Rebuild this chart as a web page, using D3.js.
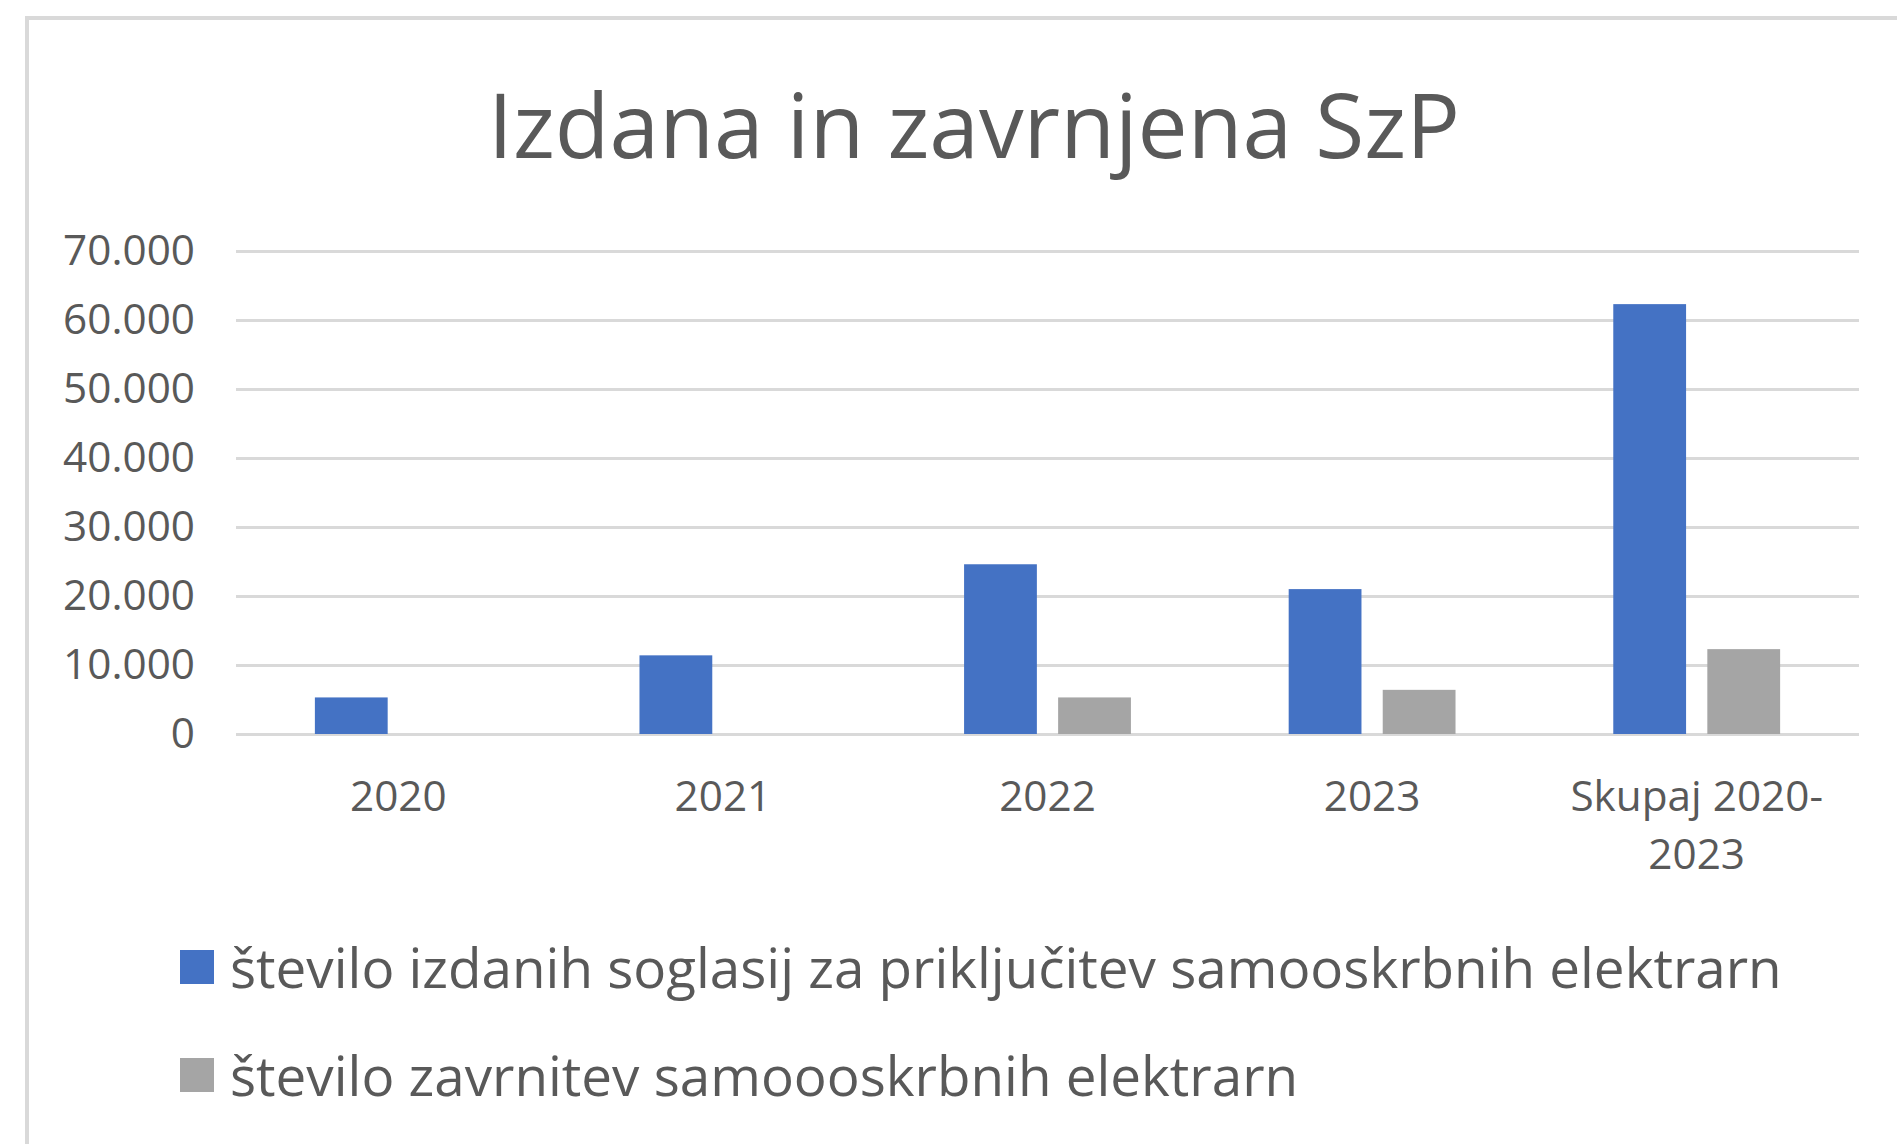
<!DOCTYPE html>
<html>
<head>
<meta charset="utf-8">
<script src="https://cdn.jsdelivr.net/npm/d3@7"></script>
<style>
  body { margin: 0; background: #fff; }
  svg text { font-family: "Open Sans", "Noto Sans", sans-serif; fill: #595959; }
</style>
</head>
<body>
<div id="chart"></div>
<script>

// data
const title = "Izdana in zavrnjena SzP"
const categories = ["2020", "2021", "2022", "2023", "Skupaj 2020-2023"]
const categoryLines = [["2020"], ["2021"], ["2022"], ["2023"], ["Skupaj 2020-", "2023"]]
const seriesNames = [
	"število izdanih soglasij za priključitev samooskrbnih elektrarn",
	"število zavrnitev samoooskrbnih elektrarn"
]
const izdana = [5300, 11400, 24600, 21000, 62300]
const zavrnjena = [0, 0, 5300, 6400, 12300]
const seriesColors = ["#4472c4", "#a5a5a5"]
const yTicks = [0, 10000, 20000, 30000, 40000, 50000, 60000, 70000]

var width = 1897, height = 1144

var svg = d3.select("#chart").append("svg")
	.attr("width", width)
	.attr("height", height)

// measure text at 100px and give back the size that fits a target width
function fitSize(str, target) {
	var t = svg.append("text").attr("font-size", 100).text(str)
	var w = t.node().getComputedTextLength()
	t.remove()
	return 100 * target / w
}

// chart frame (cut off on right and bottom like the screenshot)
svg.append("rect")
	.attr("x", 27).attr("y", 18)
	.attr("width", width).attr("height", height)
	.attr("fill", "none")
	.attr("stroke", "#d9d9d9")
	.attr("stroke-width", 4)

svg.append("text")
	.attr("x", 974).attr("y", 158)
	.attr("text-anchor", "middle")
	.attr("font-size", fitSize(title, 972))
	.text(title)

var plot = { left: 236, right: 1859, top: 251, bottom: 734 }

var x = d3.scaleBand()
	.domain(categories)
	.range([plot.left, plot.right])

var x1 = d3.scaleBand()
	.domain([0, 1])
	.range([x.bandwidth() * 0.243, x.bandwidth() * 0.757])
	.paddingInner(0.226)

var y = d3.scaleLinear()
	.domain([0, 70000])
	.range([plot.bottom, plot.top])

var fmt = d3.formatLocale({ decimal: ",", thousands: ".", grouping: [3], currency: ["", " €"] }).format(",")

var tickFont = fitSize("70.000", 132)

var yAxis = svg.append("g")
	.attr("transform", `translate(${plot.left},0)`)
	.call(d3.axisLeft(y).tickValues(yTicks).tickFormat(fmt)
		.tickSize(-(plot.right - plot.left)).tickPadding(41))

yAxis.select(".domain").remove()
yAxis.selectAll(".tick line").attr("stroke", "#d9d9d9").attr("stroke-width", 3)
yAxis.selectAll(".tick text")
	.attr("font-size", tickFont)
	.attr("fill", "#595959")
	.attr("font-family", null)

var xAxis = svg.append("g")
	.attr("transform", `translate(0,${plot.bottom})`)
	.call(d3.axisBottom(x).tickSize(0))

xAxis.select(".domain").remove()
xAxis.selectAll(".tick text")
	.attr("font-size", tickFont)
	.attr("fill", "#595959")
	.attr("font-family", null)
	.attr("y", 77).attr("dy", null)
	.each(function(d, i) {
		var el = d3.select(this).text(null)
		categoryLines[i].forEach((line, j) => {
			el.append("tspan").attr("x", 0).attr("dy", j ? 58 : 0).text(line)
		})
	})

var series = [izdana, zavrnjena]

series.forEach((vals, s) => {
	svg.append("g")
		.selectAll("rect")
		.data(vals)
		.join("rect")
		.attr("x", (d, i) => x(categories[i]) + x1(s))
		.attr("width", x1.bandwidth())
		.attr("y", d => y(d))
		.attr("height", d => y(0) - y(d))
		.attr("fill", seriesColors[s])
})

// legend
var legendFont = fitSize(seriesNames[0], 1552)

var legend = svg.append("g")
	.selectAll("g")
	.data(seriesNames)
	.join("g")
	.attr("transform", (d, i) => `translate(180,${950 + i * 108})`)

legend.append("rect")
	.attr("width", 34).attr("height", 34)
	.attr("fill", (d, i) => seriesColors[i])

legend.append("text")
	.attr("x", 50).attr("y", 38)
	.attr("font-size", legendFont)
	.text(d => d)

</script>
</body>
</html>
